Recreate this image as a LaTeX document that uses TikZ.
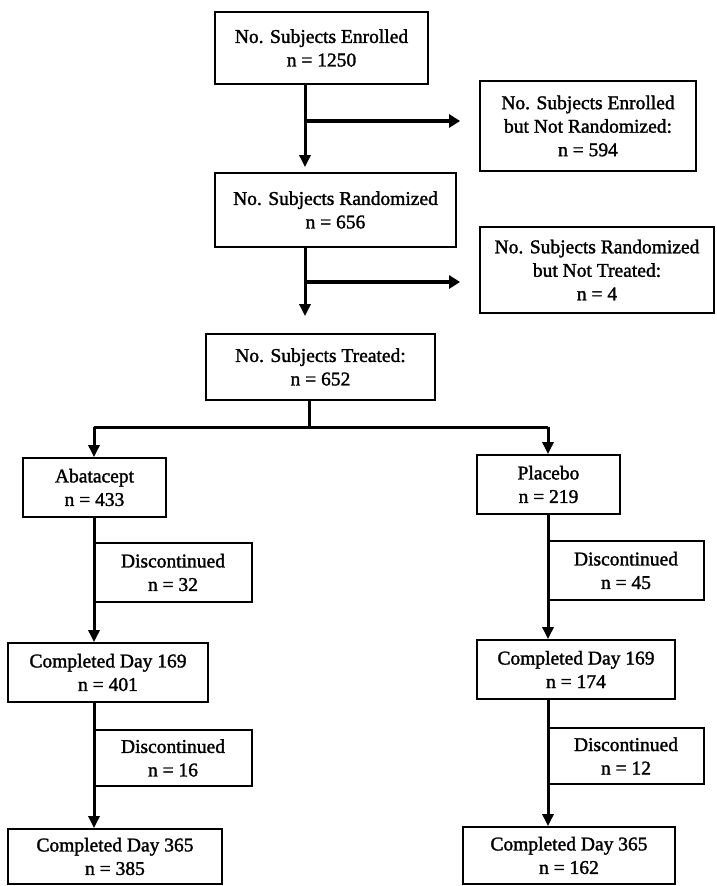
\documentclass[tikz,border=0pt]{standalone}
\usepackage{fontspec}
\newfontfamily\boxfont{Liberation Serif}[UprightFeatures={FakeBold=1.6}]
\usetikzlibrary{arrows.meta}
\begin{document}
\begin{tikzpicture}[x=1pt,y=-1pt,
  box/.style={draw,line width=1.8pt,inner sep=0pt,align=center,
    font=\boxfont\fontsize{19.5}{23.5}\selectfont},
  conn/.style={line width=3pt},
  arr/.style={line width=3pt,-{Triangle[length=12pt,width=11pt]}},
  branch/.style={line width=4.5pt,-{Triangle[length=11pt,width=13pt]}}]
\useasboundingbox[fill=white] (0,0) rectangle (716,886);
% boxes
\node[box,minimum width=213pt,minimum height=72pt] (enr) at (321.5,48) {No. Subjects Enrolled\\n = 1250};
\node[box,minimum width=216pt,minimum height=90pt] (nr) at (588,126) {No. Subjects Enrolled\\but Not Randomized:\\n = 594};
\node[box,minimum width=241pt,minimum height=74pt] (rand) at (335.5,210) {No. Subjects Randomized\\n = 656};
\node[box,minimum width=234pt,minimum height=86pt] (nt) at (597,270) {No. Subjects Randomized\\but Not Treated:\\n = 4};
\node[box,minimum width=229pt,minimum height=66pt] (tr) at (320.5,367) {No. Subjects Treated:\\n = 652};
\node[box,minimum width=143pt,minimum height=59pt] (ab) at (94.5,487.5) {Abatacept\\n = 433};
\node[box,minimum width=143pt,minimum height=59pt] (pl) at (548.5,484.5) {Placebo\\n = 219};
\node[box,minimum width=158pt,minimum height=59pt] (d1L) at (173,572.5) {Discontinued\\n = 32};
\node[box,minimum width=200pt,minimum height=59pt] (c169L) at (108,672.5) {Completed Day 169\\n = 401};
\node[box,minimum width=158pt,minimum height=56pt] (d2L) at (173,758) {Discontinued\\n = 16};
\node[box,minimum width=214pt,minimum height=55pt] (c365L) at (115,856.5) {Completed Day 365\\n = 385};
\node[box,minimum width=156pt,minimum height=59pt] (d1R) at (626,570.5) {Discontinued\\n = 45};
\node[box,minimum width=198pt,minimum height=59pt] (c169R) at (576,669.5) {Completed Day 169\\n = 174};
\node[box,minimum width=156pt,minimum height=56pt] (d2R) at (626,756) {Discontinued\\n = 12};
\node[box,minimum width=212pt,minimum height=57pt] (c365R) at (569,855.5) {Completed Day 365\\n = 162};
% trunk coordinates
\coordinate (t1) at (305,121);
\coordinate (t2) at (305,282);
\coordinate (t3) at (309,427);
\coordinate (la) at (94,0);
\coordinate (lb) at (548,0);
% top trunk
\draw[arr,shorten >=5pt] (enr.south -| t1) -- (rand.north -| t1);
\draw[branch,shorten >=19pt] (t1) -- (t1 -| nr.west);
\draw[arr,shorten >=17pt] (rand.south -| t2) -- (tr.north -| t2);
\draw[branch,shorten >=19pt] (t2) -- (t2 -| nt.west);
% split
\draw[conn] (tr.south -| t3) -- (t3);
\draw[conn] (t3 -| la) -- (t3 -| lb);
\draw[arr] (t3 -| la) -- (ab.north -| la);
\draw[arr] (t3 -| lb) -- (pl.north -| lb);
% left arm
\draw[arr] (ab.south -| la) -- (c169L.north -| la);
\draw[arr] (c169L.south -| la) -- (c365L.north -| la);
% right arm
\draw[arr] (pl.south -| lb) -- (c169R.north -| lb);
\draw[arr] (c169R.south -| lb) -- (c365R.north -| lb);
\end{tikzpicture}
\end{document}
